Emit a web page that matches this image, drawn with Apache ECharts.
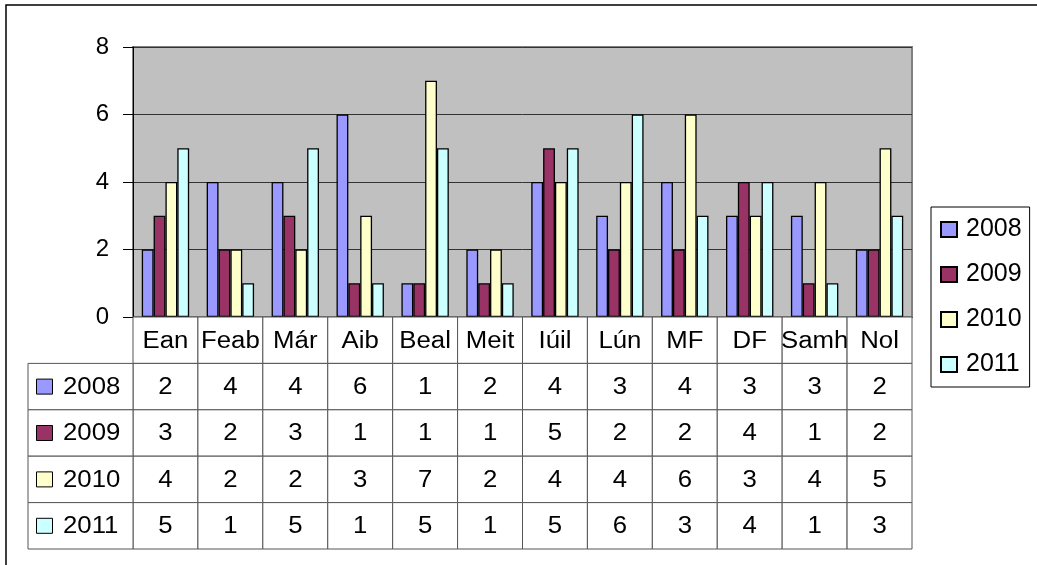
<!DOCTYPE html>
<html>
<head>
<meta charset="utf-8">
<script src="https://cdn.jsdelivr.net/npm/echarts@6/dist/echarts.min.js"></script>
<style>
html,body{margin:0;padding:0;background:#fff;}
#c{width:1037px;height:565px;}
</style>
</head>
<body>
<div id="c"></div>
<script>
const months = ['Ean','Feab','Már','Aib','Beal','Meit','Iúil','Lún','MF','DF','Samh','Nol'];
const years = ['2008','2009','2010','2011'];
const v2008 = [2,4,4,6,1,2,4,3,4,3,3,2];
const v2009 = [3,2,3,1,1,1,5,2,2,4,1,2];
const v2010 = [4,2,2,3,7,2,4,4,6,3,4,5];
const v2011 = [5,1,5,1,5,1,5,6,3,4,1,3];
const yMin = 0, yMax = 8, yStep = 2;

const seriesValues = [v2008, v2009, v2010, v2011];
const colors = ['#9999FF','#993366','#FFFFCC','#CCFFFF'];
const FONT = 'Liberation Sans';
const SX = 1.12;

const tableRows = [''].concat(years);
const tableData = [];
for (let r = 0; r < tableRows.length; r++) {
  for (let c = 0; c < months.length; c++) tableData.push([c, r]);
}

function renderCell(params, api) {
  const c = api.value(0), r = api.value(1);
  const pt = api.coord([c, r]);
  const sz = api.size([1, 1]);
  const x = pt[0] - sz[0] / 2, y = pt[1] - sz[1] / 2, w = sz[0], h = sz[1];
  const text = r === 0 ? months[c] : String(seriesValues[r - 1][c]);
  const children = [
    {type:'rect', shape:{x:x, y:y, width:w, height:h}, style:{fill:'#fff', stroke:'#555', lineWidth:1}},
    {type:'text', x:pt[0], y:pt[1] + 1, scaleX:SX, style:{text:text, fontSize:23, fontFamily:FONT, fill:'#000', align:'center', verticalAlign:'middle'}}
  ];
  if (c === 0 && r > 0) {
    const lw = 105;
    children.push({type:'rect', shape:{x:x - lw, y:y, width:lw, height:h}, style:{fill:'#fff', stroke:'#555', lineWidth:1}});
    children.push({type:'rect', shape:{x:x - lw + 8.5, y:pt[1] - 7.5, width:16, height:15}, style:{fill:colors[r - 1], stroke:'#000', lineWidth:1}});
    children.push({type:'text', x:x - lw + 35, y:pt[1] + 1, scaleX:SX, style:{text:tableRows[r], fontSize:23, fontFamily:FONT, fill:'#000', align:'left', verticalAlign:'middle'}});
  }
  return {type:'group', children:children};
}

const chart = echarts.init(document.getElementById('c'), null, {renderer:'canvas'});
const barSeries = years.map((yr, i) => ({
  name: yr,
  type: 'bar',
  xAxisIndex: 0,
  yAxisIndex: 0,
  data: seriesValues[i],
  barGap: '0%',
  barCategoryGap: '27%',
  itemStyle: {color: colors[i], borderColor: '#000', borderWidth: 1.3},
  emphasis: {disabled: true}
}));

chart.setOption({
  animation: false,
  backgroundColor: '#fff',
  textStyle: {fontFamily: FONT},
  graphic: [
    {type:'rect', silent:true, z:-10, shape:{x:6, y:5, width:1100, height:700}, style:{fill:'none', stroke:'#000', lineWidth:1.5}}
  ],
  grid: [
    {left:133, top:47, width:779, height:270, show:true, backgroundColor:'#C0C0C0', borderColor:'#808080', borderWidth:2},
    {left:133, top:317, width:779, height:232, show:false}
  ],
  legend: {
    data: years,
    orient: 'vertical',
    left: 931,
    top: 207,
    itemWidth: 16,
    itemHeight: 15,
    itemGap: 20,
    padding: [10, 8, 10, 9],
    icon: 'rect',
    borderColor: '#000',
    borderWidth: 1,
    backgroundColor: '#fff',
    selectedMode: false,
    textStyle: {fontSize: 25, fontFamily: FONT, color: '#000', padding: [0, 0, 0, 4]}
  },
  xAxis: [
    {type:'category', gridIndex:0, data:months, axisLabel:{show:false}, axisTick:{show:false}, axisLine:{show:true, lineStyle:{color:'#000', width:1}}, splitLine:{show:false}},
    {type:'category', gridIndex:1, data:months, show:false}
  ],
  yAxis: [
    {type:'value', gridIndex:0, min:yMin, max:yMax, interval:yStep,
     axisLine:{show:true, lineStyle:{color:'#000', width:1}},
     axisTick:{show:true, length:10, lineStyle:{color:'#000'}},
     axisLabel:{fontSize:24, fontFamily:FONT, color:'#000', margin:24},
     splitLine:{show:true, lineStyle:{color:'#333', width:1}}},
    {type:'category', gridIndex:1, data:tableRows, inverse:true, show:false}
  ],
  series: barSeries.concat([{
    type: 'custom',
    name: 'table',
    xAxisIndex: 1,
    yAxisIndex: 1,
    data: tableData,
    renderItem: renderCell,
    silent: true,
    z: 5
  }])
});
</script>
</body>
</html>
